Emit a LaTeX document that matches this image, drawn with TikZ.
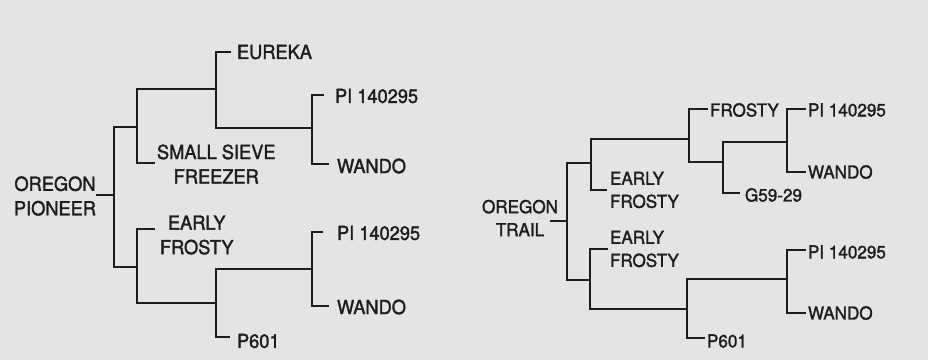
\documentclass[tikz,border=0pt]{standalone}
\usepackage{fontspec}
\setmainfont{TeX Gyre Heros}
\newfontfamily\labfontL{TeX Gyre Heros}[FakeBold=1.6, FakeStretch=0.94]
\newfontfamily\labfontR{TeX Gyre Heros}[FakeBold=1.6, FakeStretch=0.96]
\definecolor{paper}{RGB}{228,228,226}
\definecolor{ink}{RGB}{28,28,28}
\begin{document}
\begin{tikzpicture}[x=1pt,y=-1pt,
  link/.style={draw=ink, line width=1.9pt},
  lab/.style={inner sep=0pt, outer sep=0pt, anchor=west, text=ink},
  lt/.style={lab, font=\labfontL\fontsize{19.4}{24.5}\selectfont},
  rt/.style={lab, font=\labfontR\fontsize{17.8}{23}\selectfont}]
\fill[paper] (0,0) rectangle (928,360);
\useasboundingbox (0,0) rectangle (928,360);

% ---------- left tree ----------
\node[lt] (eureka) at (237,52) {EUREKA};
\node[lt] (lpi1) at (335,96) {PI 140295};
\node[lt] (lwan1) at (337,166) {WANDO};
\node[lt, align=center] (ssf) at (157,164) {SMALL SIEVE\\FREEZER};
\node[lt, align=center] (lef) at (160,235) {EARLY\\FROSTY};
\node[lt] (lp601) at (237,341) {P601};
\node[lt] (lpi2) at (337,233) {PI 140295};
\node[lt] (lwan2) at (337,307) {WANDO};
\node[lt, align=center, anchor=east] (lroot) at (96,196) {OREGON\\PIONEER};

\coordinate (lR) at (114,195);
\coordinate (lA) at (137,127);
\coordinate (lB) at (137,267);
\coordinate (lC) at (216,89);
\coordinate (lD) at (312,128);
\coordinate (lE) at (216,303);
\coordinate (lF) at (312,269);

\draw[link] (lroot.east |- lR) -- (lR);
\draw[link] (lA) -| (lR) |- (lB);
\draw[link] (lC) -| (lA) |- ([shift={(-2,-1)}]ssf.west);
\draw[link] ([xshift=-6]eureka.west) -| (lC) |- (lD);
\draw[link] ([shift={(-11,-1)}]lpi1.west) -| (lD) |- ([shift={(-8,-2)}]lwan1.west);
\draw[link] ([shift={(-5,-6)}]lef.west) -| (lB) |- (lE);
\draw[link] (lF) -| (lE) |- ([shift={(-7,-4)}]lp601.west);
\draw[link] ([shift={(-14,-1)}]lpi2.west) -| (lF) |- ([shift={(-8,-1)}]lwan2.west);

% ---------- right tree ----------
\node[rt] (rfro) at (710,110) {FROSTY};
\node[rt] (rpi1) at (808,110) {PI 140295};
\node[rt] (rwan1) at (808,172) {WANDO};
\node[rt] (rg59) at (745,195) {G59-29};
\node[rt, align=left] (ref1) at (610,190) {EARLY\\FROSTY};
\node[rt, align=left] (ref2) at (610,249) {EARLY\\FROSTY};
\node[rt] (rp601) at (707,341) {P601};
\node[rt] (rpi2) at (808,252) {PI 140295};
\node[rt] (rwan2) at (808,313) {WANDO};
\node[rt, align=center, anchor=east] (rroot) at (558,218) {OREGON\\TRAIL};

\coordinate (rR) at (567,221);
\coordinate (rA) at (591,163);
\coordinate (rB) at (590,280);
\coordinate (rC) at (689,139);
\coordinate (rD) at (723,162);
\coordinate (rE) at (787,142);
\coordinate (rF) at (687,309);
\coordinate (rG) at (787,279);

\draw[link] ([xshift=-8]rroot.east |- rR) -- (rR);
\draw[link] (rA) -| (rR) |- (rB);
\draw[link] (rC) -| (rA) |- ([xshift=-3]ref1.west);
\draw[link] ([shift={(-2,-1)}]rfro.west) -| (rC) |- (rD);
\draw[link] (rE) -| (rD) |- ([shift={(-5,-2)}]rg59.west);
\draw[link] ([shift={(-2,-1)}]rpi1.west) -| (rE) |- ([xshift=-2]rwan1.west);
\draw[link] ([xshift=-2]ref2.west) -| (rB) |- (rF);
\draw[link] (rG) -| (rF) |- ([shift={(-2,-3)}]rp601.west);
\draw[link] ([shift={(-2,-2)}]rpi2.west) -| (rG) |- ([xshift=-2]rwan2.west);
\end{tikzpicture}
\end{document}
